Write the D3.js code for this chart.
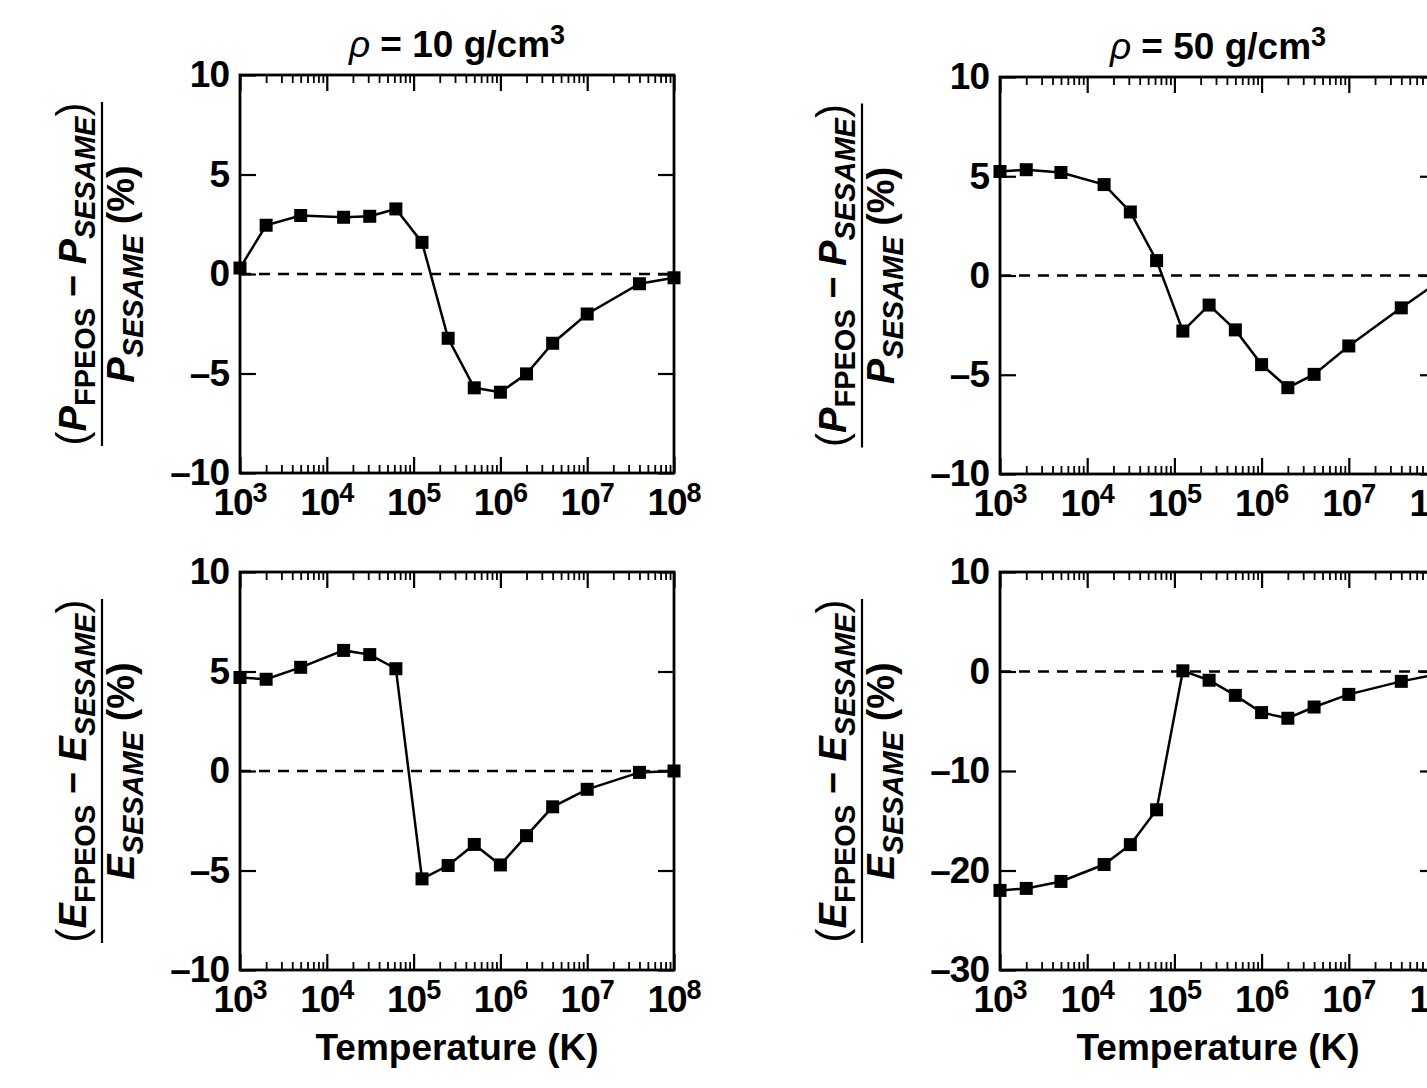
<!DOCTYPE html>
<html><head><meta charset="utf-8">
<script src="https://cdn.jsdelivr.net/npm/d3@7"></script>
<style>
body{margin:0;background:#fff;}
svg{display:block;font-family:"Liberation Sans",Arial,Helvetica,sans-serif;font-weight:bold;}
</style></head><body>
<svg id="fig" width="1427" height="1088"></svg>
<script>
// Temperatures (K) shared by all four panels
const temperatures = [1e3, 2e3, 5e3, 15625, 31250, 62500, 125000, 250000, 500000, 1e6, 2e6, 4e6, 1e7, 4e7, 1e8];
// Relative pressure difference (%) at 10 and 50 g/cm3
const pressure10 = [0.3, 2.45, 2.94, 2.85, 2.9, 3.27, 1.59, -3.23, -5.72, -5.94, -5.02, -3.48, -2.01, -0.49, -0.19];
const pressure50 = [5.24, 5.33, 5.19, 4.58, 3.2, 0.75, -2.8, -1.49, -2.74, -4.49, -5.65, -4.98, -3.55, -1.63, -0.4];
// Relative internal-energy difference (%) at 10 and 50 g/cm3
const energy10 = [4.7, 4.61, 5.21, 6.06, 5.85, 5.14, -5.42, -4.75, -3.69, -4.72, -3.25, -1.8, -0.92, -0.07, 0.0];
const energy50 = [-22.0, -21.8, -21.1, -19.4, -17.4, -13.9, 0.07, -0.88, -2.4, -4.13, -4.7, -3.57, -2.3, -0.99, -0.3];
// Axis ticks
const xMajorTicks = [1e3, 1e4, 1e5, 1e6, 1e7, 1e8];
const xTickExponents = ["3", "4", "5", "6", "7", "8"];
const yTicksNarrow = [-10, -5, 0, 5, 10];
const yTicksWide = [-30, -20, -10, 0, 10];
const densityLabels = ["10", "50"];

const svg = d3.select("#fig");
const fmtY = d => d < 0 ? "\u2013" + Math.abs(d) : String(d);

const xMinorTicks = [];
for (let e = 3; e < 8; e++) for (let m = 2; m <= 9; m++) xMinorTicks.push(m * Math.pow(10, e));

const panels = [
  {x0: 240, x1: 674, y0: 75, y1: 473, values: pressure10, yTicks: yTicksNarrow, qty: "P", title: densityLabels[0]},
  {x0: 1000, x1: 1436, y0: 77, y1: 474, values: pressure50, yTicks: yTicksNarrow, qty: "P", title: densityLabels[1]},
  {x0: 240, x1: 674, y0: 572, y1: 970, values: energy10, yTicks: yTicksNarrow, qty: "E", xTitle: true},
  {x0: 1000, x1: 1436, y0: 572, y1: 970, values: energy50, yTicks: yTicksWide, qty: "E", xTitle: true}
];

panels.forEach(p => {
  const x = d3.scaleLog().domain([1e3, 1e8]).range([p.x0, p.x1]);
  const y = d3.scaleLinear().domain(d3.extent(p.yTicks)).range([p.y1, p.y0]);
  const g = svg.append("g");

  const styleAxis = (sel, w) => {
    sel.select(".domain").remove();
    sel.selectAll("line").attr("stroke", "#000").attr("stroke-width", w);
  };

  // Inward log ticks on bottom and top edges
  g.append("g").attr("transform", `translate(0,${p.y1})`)
    .call(d3.axisBottom(x).tickValues(xMajorTicks).tickSize(-16).tickFormat(""))
    .call(s => styleAxis(s, 2.2));
  g.append("g").attr("transform", `translate(0,${p.y1})`)
    .call(d3.axisBottom(x).tickValues(xMinorTicks).tickSize(-8).tickFormat(""))
    .call(s => styleAxis(s, 1.8));
  g.append("g").attr("transform", `translate(0,${p.y0})`)
    .call(d3.axisTop(x).tickValues(xMajorTicks).tickSize(-16).tickFormat(""))
    .call(s => styleAxis(s, 2.2));
  g.append("g").attr("transform", `translate(0,${p.y0})`)
    .call(d3.axisTop(x).tickValues(xMinorTicks).tickSize(-8).tickFormat(""))
    .call(s => styleAxis(s, 1.8));

  // Left / right value ticks
  const yl = g.append("g").attr("transform", `translate(${p.x0},0)`)
    .call(d3.axisLeft(y).tickValues(p.yTicks).tickSize(-16).tickPadding(11).tickFormat(fmtY))
    .call(s => styleAxis(s, 2.2));
  yl.selectAll("text").attr("font-size", 37).attr("font-family", "inherit").attr("fill", "#000")
    .attr("letter-spacing", -1);
  g.append("g").attr("transform", `translate(${p.x1},0)`)
    .call(d3.axisRight(y).tickValues(p.yTicks).tickSize(-16).tickFormat(""))
    .call(s => styleAxis(s, 2.2));

  // Frame
  g.append("rect").attr("x", p.x0).attr("y", p.y0)
    .attr("width", p.x1 - p.x0).attr("height", p.y1 - p.y0)
    .attr("fill", "none").attr("stroke", "#000").attr("stroke-width", 2.8);

  // Decade labels 10^n
  const xl = g.append("g").selectAll("text").data(xMajorTicks).join("text")
    .attr("x", d => x(d)).attr("y", p.y1 + 42)
    .attr("text-anchor", "middle").attr("font-size", 37).attr("letter-spacing", -1);
  xl.append("tspan").text("10");
  xl.append("tspan").attr("dy", -13).attr("font-size", 27).text((d, i) => xTickExponents[i]);

  // Zero reference
  g.append("line").attr("x1", p.x0).attr("x2", p.x1)
    .attr("y1", y(0)).attr("y2", y(0))
    .attr("stroke", "#000").attr("stroke-width", 2.4).attr("stroke-dasharray", "11,8");

  const pts = temperatures.map((t, i) => [t, p.values[i]]);
  g.append("path").datum(pts)
    .attr("d", d3.line().x(d => x(d[0])).y(d => y(d[1])))
    .attr("fill", "none").attr("stroke", "#000").attr("stroke-width", 2.5);
  g.append("g").selectAll("rect").data(pts).join("rect")
    .attr("x", d => x(d[0]) - 6.5).attr("y", d => y(d[1]) - 6.5)
    .attr("width", 13).attr("height", 13).attr("fill", "#000");

  // Rotated fraction label
  const cy = (p.y0 + p.y1) / 2;
  const lab = g.append("g").attr("transform", `translate(${p.x0 - 138},${cy}) rotate(-90)`);
  const num = lab.append("text").attr("y", -16).attr("text-anchor", "middle").attr("font-size", 38);
  num.append("tspan").attr("font-weight", "normal").attr("font-size", 42).text("(");
  num.append("tspan").attr("font-style", "italic").text(p.qty);
  num.append("tspan").attr("font-size", 29).attr("dy", 9).text("FPEOS");
  num.append("tspan").attr("dy", -9).text(" \u2212 ");
  num.append("tspan").attr("font-style", "italic").text(p.qty);
  num.append("tspan").attr("font-style", "italic").attr("font-size", 29).attr("dy", 9).text("SESAME");
  num.append("tspan").attr("dy", -9).attr("font-weight", "normal").attr("font-size", 42).text(")");
  lab.append("line").attr("x1", -172).attr("x2", 172).attr("y1", 0).attr("y2", 0)
    .attr("stroke", "#000").attr("stroke-width", 2.2);
  const den = lab.append("text").attr("y", 32).attr("text-anchor", "middle").attr("font-size", 38);
  den.append("tspan").attr("font-style", "italic").text(p.qty);
  den.append("tspan").attr("font-style", "italic").attr("font-size", 29).attr("dy", 9).text("SESAME");
  den.append("tspan").attr("dy", -9).text(" (%)");

  if (p.title) {
    const t = g.append("text").attr("x", (p.x0 + p.x1) / 2).attr("y", p.y0 - 18)
      .attr("text-anchor", "middle").attr("font-size", 37);
    t.append("tspan").attr("font-style", "italic").attr("font-weight", "normal").text("\u03C1");
    t.append("tspan").text(` = ${p.title} g/cm`);
    t.append("tspan").attr("dy", -13).attr("font-size", 27).text("3");
  }
  if (p.xTitle) {
    g.append("text").attr("x", (p.x0 + p.x1) / 2).attr("y", p.y1 + 90)
      .attr("text-anchor", "middle").attr("font-size", 37).text("Temperature (K)");
  }
});
</script>
</body></html>
